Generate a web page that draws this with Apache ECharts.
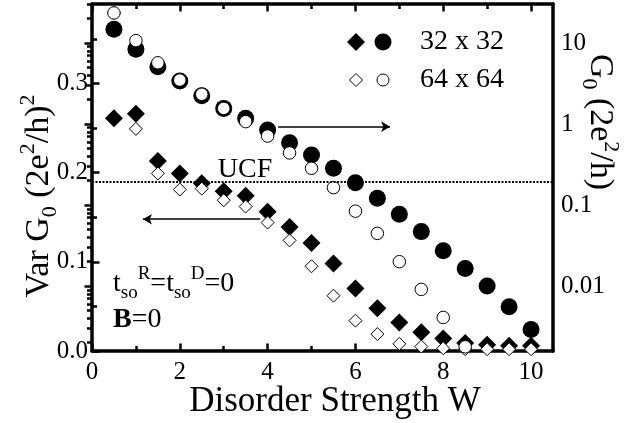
<!DOCTYPE html>
<html><head><meta charset="utf-8">
<script src="https://cdn.jsdelivr.net/npm/echarts@6/dist/echarts.min.js"></script>
<style>html,body{margin:0;padding:0;background:#fff}#c{width:630px;height:423px}</style>
</head><body><div id="c"></div>
<script>
// ---- data ----
const W = [0.5,1,1.5,2,2.5,3,3.5,4,4.5,5,5.5,6,6.5,7,7.5,8,8.5,9,9.5,10];
const varG32 = [0.261,0.266,0.213,0.199,0.188,0.179,0.174,0.156,0.139,0.121,0.098,0.070,0.048,0.032,0.021,0.014,0.009,0.007,0.006,0.006];
const varG64 = [0.379,0.249,0.199,0.181,0.182,0.169,0.162,0.144,0.124,0.095,0.062,0.034,0.019,0.008,0.005,0.003,0.002,0.002,0.002,0.002];
const G32 = [14.8,8.36,5.1,3.4,2.23,1.56,1.18,0.843,0.588,0.414,0.284,0.188,0.121,0.077,0.047,0.0273,0.0165,0.010,0.00555,0.00292];
const G64 = [23.5,10.7,5.7,3.49,2.33,1.56,1.07,0.71,0.44,0.284,0.164,0.084,0.0447,0.020,0.0091,0.0041,0.00178];
const ucfValue = 0.186;
const arrowRight = [[4.24,0.2515],[6.79,0.2515]];
const arrowLeft = [[3.83,0.1477],[1.16,0.1477]];
const xMajor = [0,2,4,6,8,10];
const xMinor = [1,3,5,7,9];
const yMajor = [0,0.1,0.2,0.3];
const yMinor = [0.05,0.15,0.25,0.35];
const gMajor = [0.01,0.1,1,10];
const gMajorLabels = ['0.01','0.1','1','10'];
const gMinor = [0.002,0.003,0.004,0.005,0.006,0.007,0.008,0.009,0.02,0.03,0.04,0.05,0.06,0.07,0.08,0.09,0.2,0.3,0.4,0.5,0.6,0.7,0.8,0.9,2,3,4,5,6,7,8,9,20,30];
const legendLabels = ['32 x 32','64 x 64'];

// ---- chart ----
const FONT = 'Liberation Serif';
const X_MIN = 0, X_MAX = 10.5, Y_MAX = 0.389, G_MIN = 0.00158, G_MAX = 30.3;
const MAJOR_LEN = 7.5, MINOR_LEN = 5;
const pair = (xs, ys) => ys.map((v, i) => [xs[i], v]);

function xAx(pos, ticks, len, line, labels) {
  return {
    type: 'value', position: pos, min: X_MIN, max: X_MAX,
    axisLine: {show: line, onZero: false, lineStyle: {color: '#000', width: 3.5}},
    axisTick: {show: true, inside: true, length: len, customValues: ticks, lineStyle: {color: '#000', width: 2.5}},
    axisLabel: labels ? {show: true, customValues: xMajor, color: '#000', fontFamily: FONT, fontSize: 25, margin: 9} : {show: false},
    splitLine: {show: false}
  };
}
// hidden helper axis (log10 space) used only to draw the right-hand tick marks
function logTickAx(ticks, len) {
  return {type: 'value', position: 'right', min: Math.log10(G_MIN), max: Math.log10(G_MAX),
    axisLine: {show: false},
    axisTick: {show: true, inside: true, length: len, customValues: ticks.map(v => Math.log10(v)), lineStyle: {color: '#000', width: 2.5}},
    axisLabel: {show: false}, splitLine: {show: false}};
}
const chart = echarts.init(document.getElementById('c'), null, {renderer: 'canvas'});
const rich = {
  b: {fontFamily: FONT, fontSize: 34, lineHeight: 44, color: '#000'},
  sub: {fontFamily: FONT, fontSize: 22, lineHeight: 22, verticalAlign: 'bottom', color: '#000'},
  sup: {fontFamily: FONT, fontSize: 22, lineHeight: 22, verticalAlign: 'top', color: '#000'}
};
const rich2 = {
  b: {fontFamily: FONT, fontSize: 28, lineHeight: 38, color: '#000'},
  bb: {fontFamily: FONT, fontSize: 28, lineHeight: 38, fontWeight: 'bold', color: '#000'},
  sub: {fontFamily: FONT, fontSize: 19, lineHeight: 19, verticalAlign: 'bottom', color: '#000'},
  sup: {fontFamily: FONT, fontSize: 19, lineHeight: 19, verticalAlign: 'top', color: '#000'}
};
const filled = {color: '#000', opacity: 1};
const open = {color: '#fff', borderColor: '#000', borderWidth: 1, opacity: 1};
const option = {
  animation: false,
  backgroundColor: '#fff',
  grid: {left: 92, right: 77, top: 4, bottom: 72, containLabel: false},
  xAxis: [
    xAx('bottom', xMajor, MAJOR_LEN, true, true),
    xAx('bottom', xMinor, MINOR_LEN, false, false),
    xAx('top', xMajor, MAJOR_LEN, true, false),
    xAx('top', xMinor, MINOR_LEN, false, false)
  ],
  yAxis: [
    {type: 'value', position: 'left', min: 0, max: Y_MAX,
     axisLine: {show: true, onZero: false, lineStyle: {color: '#000', width: 3.5}},
     axisTick: {inside: true, length: MAJOR_LEN, customValues: yMajor, lineStyle: {color: '#000', width: 2.5}},
     axisLabel: {customValues: yMajor, formatter: v => v.toFixed(1), color: '#000', fontFamily: FONT, fontSize: 25, margin: 4},
     splitLine: {show: false}},
    {type: 'value', position: 'left', min: 0, max: Y_MAX,
     axisLine: {show: false},
     axisTick: {inside: true, length: MINOR_LEN, customValues: yMinor, lineStyle: {color: '#000', width: 2.5}},
     axisLabel: {show: false}, splitLine: {show: false}},
    {type: 'log', logBase: 10, position: 'right', min: G_MIN, max: G_MAX,
     axisLine: {show: true, onZero: false, lineStyle: {color: '#000', width: 3.5}},
     axisTick: {show: false},
     axisLabel: {customValues: gMajor, formatter: v => gMajorLabels[gMajor.findIndex(g => Math.abs(Math.log10(g) - Math.log10(v)) < 1e-6)], color: '#000', fontFamily: FONT, fontSize: 25, margin: 8},
     splitLine: {show: false}},
    logTickAx(gMajor, MAJOR_LEN),
    logTickAx(gMinor, MINOR_LEN)
  ],
  series: [
    {type: 'scatter', name: legendLabels[0], xAxisIndex: 0, yAxisIndex: 0, data: pair(W, varG32),
     symbol: 'diamond', symbolSize: 18, itemStyle: filled, clip: true, silent: true,
     markLine: {silent: true, symbol: ['none', 'arrow'], symbolSize: [8, 9], label: {show: false},
       lineStyle: {color: '#000', width: 1.5, type: 'solid', opacity: 1},
       data: [
         [{coord: arrowRight[0]}, {coord: arrowRight[1]}],
         [{coord: arrowLeft[0]}, {coord: arrowLeft[1]}]
       ]}},
    {type: 'scatter', name: legendLabels[0], xAxisIndex: 0, yAxisIndex: 2, data: pair(W, G32),
     symbol: 'circle', symbolSize: 17, itemStyle: filled, clip: true, silent: true},
    {type: 'scatter', name: legendLabels[1], xAxisIndex: 0, yAxisIndex: 0, data: pair(W, varG64),
     symbol: 'diamond', symbolSize: 13, itemStyle: open, clip: true, silent: true,
     markLine: {silent: true, symbol: 'none', label: {show: false},
       lineStyle: {color: '#000', width: 2, type: [2, 1.5], opacity: 1},
       data: [{yAxis: ucfValue}]}},
    {type: 'scatter', name: legendLabels[1], xAxisIndex: 0, yAxisIndex: 2, data: pair(W, G64),
     symbol: 'circle', symbolSize: 12.5, itemStyle: open, clip: true, silent: true}
  ],
  graphic: [
    {type: 'polygon', shape: {points: [[356,33],[365,42],[356,51],[347,42]]}, style: {fill: '#000'}},
    {type: 'circle', shape: {cx: 383, cy: 42, r: 8.5}, style: {fill: '#000'}},
    {type: 'text', x: 420, y: 42, style: {text: legendLabels[0], font: '28px "Liberation Serif"', fill: '#000', textVerticalAlign: 'middle'}},
    {type: 'polygon', shape: {points: [[356,73.5],[362.5,80],[356,86.5],[349.5,80]]}, style: {fill: '#fff', stroke: '#000', lineWidth: 1}},
    {type: 'circle', shape: {cx: 383, cy: 80, r: 6}, style: {fill: '#fff', stroke: '#000', lineWidth: 1}},
    {type: 'text', x: 420, y: 80, style: {text: legendLabels[1], font: '28px "Liberation Serif"', fill: '#000', textVerticalAlign: 'middle'}},
    {type: 'text', x: 245, y: 170, style: {text: 'UCF', font: '28px "Liberation Serif"', fill: '#000', textAlign: 'center', textVerticalAlign: 'middle'}},
    {type: 'text', x: 335, y: 402, style: {text: 'Disorder Strength W', font: '35px "Liberation Serif"', fill: '#000', textAlign: 'center', textVerticalAlign: 'middle'}},
    {type: 'text', x: 39, y: 196, rotation: Math.PI / 2,
     style: {text: '{b|Var G}{sub|0}{b| (2e}{sup|2}{b|/h)}{sup|2}', rich: rich, textAlign: 'center', textVerticalAlign: 'middle'}},
    {type: 'text', x: 600, y: 122, rotation: -Math.PI / 2,
     style: {text: '{b|G}{sub|0}{b| (2e}{sup|2}{b|/h)}', rich: rich, textAlign: 'center', textVerticalAlign: 'middle'}},
    {type: 'text', x: 113, y: 284,
     style: {text: '{b|t}{sub|so}{sup|R}{b|=t}{sub|so}{sup|D}{b|=0}', rich: rich2, textAlign: 'left', textVerticalAlign: 'middle'}},
    {type: 'text', x: 113, y: 320,
     style: {text: '{bb|B}{b|=0}', rich: rich2, textAlign: 'left', textVerticalAlign: 'middle'}}
  ]
};
chart.setOption(option);
</script></body></html>
